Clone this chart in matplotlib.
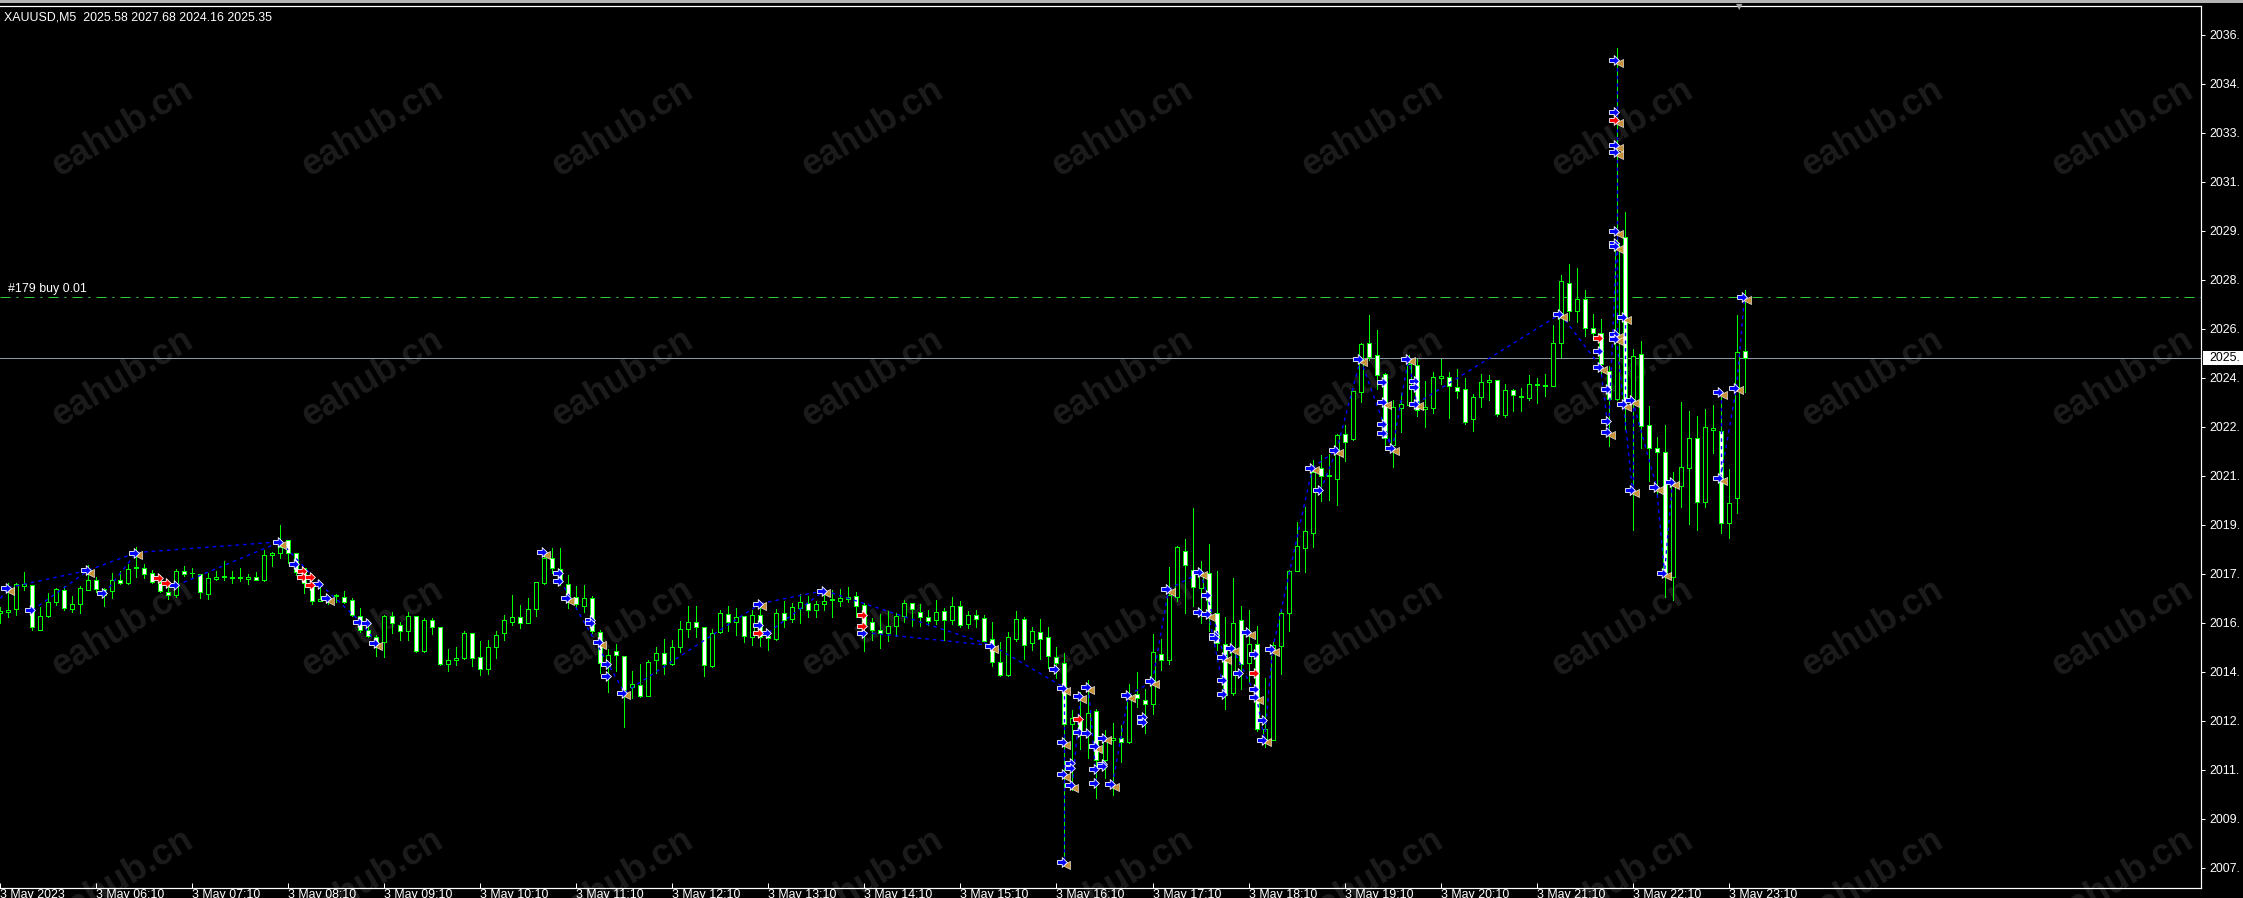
import matplotlib
matplotlib.use("Agg")
import matplotlib.pyplot as plt
from matplotlib.path import Path
from matplotlib.patches import Rectangle

plt.rcParams['font.family'] = ['Liberation Sans', 'DejaVu Sans']

W, H = 2243, 898

opens = [2016.57,2016.60,2016.68,2017.49,2017.51,2015.98,2016.46,2016.94,2017.35,2016.68,
2016.85,2017.36,2017.71,2017.37,2017.33,2017.68,2017.58,2018.10,2018.09,2017.94,
2017.58,2017.29,2017.16,2018.01,2017.92,2017.91,2017.22,2017.74,2017.78,2017.77,
2017.76,2017.74,2017.81,2017.70,2018.54,2018.61,2019.08,2018.61,2018.09,2017.52,
2016.98,2017.12,2017.15,2017.12,2016.99,2016.45,2015.97,2015.74,2015.57,2016.46,
2016.15,2015.94,2016.46,2015.23,2016.33,2016.06,2014.78,2014.95,2014.99,2015.88,
2015.02,2014.61,2015.37,2015.88,2016.26,2016.40,2016.22,2016.68,2017.60,2018.44,
2018.06,2017.57,2017.11,2016.80,2017.06,2015.91,2014.72,2015.25,2015.08,2013.99,
2014.08,2013.70,2014.92,2015.19,2014.78,2015.37,2015.99,2016.23,2016.08,2014.72,
2015.91,2016.53,2016.26,2016.44,2015.71,2016.47,2015.76,2015.67,2016.57,2016.34,
2016.74,2016.91,2016.65,2016.86,2017.00,2016.98,2017.04,2017.13,2016.82,2016.23,
2015.96,2015.88,2016.10,2016.44,2016.89,2016.58,2016.43,2016.33,2016.61,2016.33,
2016.79,2016.19,2016.48,2016.37,2015.65,2014.85,2014.41,2015.65,2016.34,2015.53,
2015.89,2015.72,2015.05,2014.84,2012.71,2012.86,2012.46,2013.19,2011.50,2012.19,
2012.23,2012.11,2013.75,2013.57,2013.43,2015.13,2014.95,2017.12,2018.68,2018.03,
2017.42,2017.95,2016.55,2015.50,2013.78,2016.32,2014.84,2015.47,2012.11,2012.19,
2015.42,2016.57,2018.02,2018.78,2019.30,2021.54,2021.27,2021.19,2022.72,2022.54,
2024.19,2025.85,2025.44,2024.80,2022.36,2023.64,2023.73,2025.10,2023.58,2023.64,
2024.65,2024.70,2024.36,2024.27,2023.23,2023.99,2024.51,2024.58,2023.37,2024.23,
2024.02,2023.98,2024.41,2024.40,2024.40,2025.85,2027.95,2026.98,2027.40,2026.37,
2026.20,2024.91,2023.95,2029.53,2023.79,2025.50,2023.05,2022.23,2022.12,2017.80,
2020.95,2021.54,2022.58,2020.37,2022.88,2022.84,2019.65,2020.51,2025.58]

highs = [2016.77,2017.58,2017.58,2017.97,2017.51,2016.77,2017.26,2017.40,2017.48,2017.14,
2017.48,2018.21,2017.78,2017.40,2017.92,2018.00,2018.24,2018.82,2018.23,2018.03,
2017.86,2017.52,2018.06,2018.17,2018.09,2017.91,2017.94,2017.99,2018.35,2018.00,
2018.09,2017.90,2017.97,2018.73,2018.67,2019.59,2019.08,2018.61,2018.09,2017.58,
2017.48,2017.17,2017.21,2017.30,2017.06,2016.71,2016.31,2015.79,2016.48,2016.60,
2016.25,2016.60,2016.46,2016.37,2016.37,2016.06,2015.33,2015.37,2015.93,2015.88,
2015.59,2015.62,2015.94,2016.47,2017.17,2016.82,2017.07,2017.63,2018.59,2018.78,
2018.78,2017.86,2017.48,2017.52,2017.14,2015.97,2015.30,2015.48,2015.08,2014.55,
2014.79,2014.93,2015.37,2015.65,2015.62,2016.28,2016.79,2016.79,2016.08,2015.99,
2016.65,2016.79,2016.71,2016.44,2016.65,2016.83,2015.91,2016.68,2016.97,2016.91,
2017.21,2017.14,2016.98,2017.24,2017.35,2017.38,2017.44,2017.27,2016.89,2016.37,
2016.52,2016.63,2016.55,2017.00,2016.89,2016.87,2016.66,2017.00,2016.72,2017.10,
2016.97,2016.63,2016.66,2016.49,2016.26,2015.57,2015.90,2016.63,2016.41,2016.07,
2016.34,2016.07,2015.37,2015.16,2013.20,2013.84,2014.24,2013.23,2012.52,2012.75,
2012.69,2014.09,2014.53,2013.95,2015.83,2015.66,2018.13,2018.87,2019.10,2020.17,
2018.34,2018.93,2018.01,2016.42,2017.75,2016.79,2016.65,2016.10,2014.30,2015.54,
2016.65,2018.05,2019.71,2020.20,2021.83,2022.00,2022.04,2022.73,2023.04,2024.22,
2025.85,2026.83,2026.32,2024.84,2023.90,2024.13,2025.45,2025.30,2024.56,2024.87,
2025.30,2024.87,2024.97,2024.65,2024.10,2024.80,2024.76,2024.58,2024.47,2024.28,
2024.31,2024.76,2024.65,2024.80,2026.49,2028.21,2028.59,2028.47,2027.71,2026.86,
2026.69,2025.07,2036.03,2030.39,2025.65,2025.92,2023.69,2022.61,2023.04,2021.43,
2023.84,2023.52,2023.35,2023.58,2023.73,2024.00,2021.51,2026.83,2027.68]

lows = [2016.22,2016.42,2016.48,2017.34,2015.97,2015.97,2016.43,2016.83,2016.66,2016.60,
2016.56,2017.34,2017.29,2016.79,2017.07,2017.55,2017.55,2017.78,2017.77,2017.58,
2017.29,2017.03,2017.09,2017.83,2017.78,2017.08,2017.03,2017.69,2017.69,2017.59,
2017.67,2017.55,2017.69,2017.66,2018.18,2018.45,2018.27,2017.86,2017.25,2016.88,
2016.98,2016.88,2016.92,2016.91,2016.45,2015.91,2015.71,2015.08,2015.05,2015.88,
2015.63,2015.64,2015.21,2015.21,2015.83,2014.77,2014.55,2014.76,2014.96,2014.72,
2014.42,2014.45,2015.00,2015.62,2016.14,2016.03,2016.20,2016.45,2017.55,2017.92,
2017.52,2016.71,2016.68,2016.60,2015.87,2014.47,2013.84,2014.55,2012.63,2013.63,
2013.67,2013.69,2014.50,2014.45,2014.76,2015.22,2015.73,2015.73,2014.39,2014.70,
2015.87,2015.93,2015.79,2015.56,2015.46,2015.41,2015.27,2015.62,2016.08,2016.26,
2016.22,2016.40,2016.40,2016.66,2016.40,2016.80,2016.95,2016.43,2015.26,2015.62,
2015.36,2015.60,2015.76,2016.26,2016.09,2016.12,2016.14,2016.18,2015.63,2016.18,
2016.06,2016.03,2016.06,2015.60,2014.73,2014.38,2014.38,2015.60,2014.97,2015.28,
2014.98,2014.65,2014.30,2007.86,2010.44,2011.88,2011.57,2010.19,2010.88,2010.27,
2011.42,2012.06,2013.30,2012.42,2013.07,2014.59,2014.80,2016.98,2016.57,2016.78,
2016.22,2015.94,2015.28,2013.23,2013.74,2013.95,2014.18,2012.50,2011.92,2012.17,
2014.45,2015.94,2018.02,2017.98,2018.84,2020.42,2020.45,2020.28,2021.80,2022.52,
2023.84,2025.28,2024.27,2022.29,2021.60,2022.81,2023.69,2023.36,2022.98,2023.46,
2024.45,2023.29,2023.98,2023.06,2022.84,2023.67,2023.90,2023.36,2023.30,2023.53,
2023.52,2023.90,2023.81,2024.04,2024.40,2025.39,2026.65,2026.59,2026.11,2025.97,
2024.76,2022.32,2023.90,2022.90,2019.41,2022.26,2021.10,2020.62,2017.10,2017.00,
2020.20,2019.62,2019.41,2020.22,2022.08,2019.30,2019.13,2020.01,2024.16]

closes = [2016.62,2016.66,2017.54,2017.54,2016.08,2016.44,2016.94,2017.37,2016.74,2016.88,
2017.40,2017.68,2017.37,2017.17,2017.68,2017.58,2018.08,2018.14,2017.89,2017.63,
2017.32,2017.18,2018.02,2017.89,2017.95,2017.29,2017.75,2017.78,2017.83,2017.79,
2017.78,2017.81,2017.71,2018.54,2018.61,2018.84,2018.61,2017.98,2017.58,2016.98,
2017.05,2017.05,2017.18,2016.95,2016.47,2015.97,2015.76,2015.39,2016.46,2016.20,
2015.92,2016.46,2015.23,2016.33,2016.06,2014.78,2014.95,2015.00,2015.88,2014.99,
2014.63,2015.37,2015.78,2016.33,2016.40,2016.20,2016.68,2017.61,2018.44,2018.09,
2017.63,2017.14,2016.85,2017.06,2015.93,2014.82,2015.10,2015.09,2013.90,2014.09,
2013.70,2014.88,2015.19,2014.78,2015.39,2015.99,2016.23,2016.08,2014.75,2015.87,
2016.57,2016.26,2016.40,2015.75,2016.50,2015.73,2015.68,2016.57,2016.33,2016.75,
2016.92,2016.65,2016.86,2016.98,2017.03,2017.06,2017.12,2016.81,2016.17,2015.98,
2015.88,2016.10,2016.44,2016.89,2016.68,2016.43,2016.29,2016.58,2016.30,2016.79,
2016.13,2016.48,2016.34,2015.60,2014.85,2014.43,2015.72,2016.34,2015.46,2015.92,
2015.67,2015.06,2014.84,2012.71,2012.92,2012.52,2013.12,2011.50,2012.17,2012.23,
2012.09,2013.72,2013.61,2013.43,2015.22,2014.95,2017.17,2018.82,2018.20,2017.44,
2017.95,2016.60,2015.51,2013.72,2016.22,2014.79,2015.47,2012.54,2012.54,2015.45,
2016.57,2018.02,2018.85,2019.37,2021.43,2021.29,2021.30,2022.69,2022.46,2024.21,
2025.83,2025.39,2024.75,2022.58,2023.65,2023.75,2025.13,2023.56,2023.65,2024.68,
2024.72,2024.38,2024.22,2023.13,2023.99,2024.51,2024.58,2023.41,2024.23,2024.06,
2024.05,2024.44,2024.47,2024.42,2025.85,2027.99,2026.98,2027.40,2026.40,2026.20,
2025.15,2023.92,2029.30,2023.86,2025.43,2023.00,2022.26,2022.12,2017.98,2020.97,
2021.58,2022.58,2020.37,2022.98,2022.92,2019.65,2020.34,2025.57,2025.35]

# blue open arrows
arrow_bars = [1,11,17,35,41,47,68,4,13,22,37,40,45,46,70,70,71,74,74,75,76,76,78,95,95,96,
103,108,124,132,133,133,133,133,134,134,134,135,135,136,136,137,137,137,138,138,138,139,
141,143,143,144,146,150,150,151,151,152,152,153,153,153,154,155,156,157,157,157,158,158,159,
164,165,167,170,173,173,173,173,174,176,177,177,177,195,200,200,201,201,201,202,202,202,202,
202,202,202,202,202,203,203,204,204,207,208,209,215,215,217,218]
arrow_prices = [2017.43,2018.03,2018.64,2019.01,2017.06,2015.53,2018.67,2016.65,2017.23,2017.51,
2018.24,2017.54,2016.25,2016.20,2017.92,2017.67,2017.06,2016.31,2016.20,2015.56,2014.78,2014.38,
2013.81,2016.88,2016.14,2015.88,2017.33,2015.88,2015.43,2014.63,2013.98,2012.11,2010.99,2007.95,
2011.37,2011.22,2010.61,2013.69,2012.46,2014.00,2012.42,2011.96,2011.19,2010.70,2012.26,2011.36,
2011.28,2010.64,2013.72,2012.97,2012.80,2014.20,2017.37,2017.96,2016.58,2017.17,2016.52,2015.80,
2015.68,2015.02,2014.24,2013.75,2015.34,2014.50,2015.91,2015.13,2013.93,2013.67,2012.86,2012.19,
2015.30,2021.57,2020.78,2022.16,2025.30,2024.51,2023.84,2023.06,2022.77,2022.23,2025.33,2024.56,
2024.36,2023.78,2026.87,2025.59,2025.05,2024.28,2023.18,2022.81,2035.63,2033.83,2032.69,2032.46,
2029.73,2029.33,2029.21,2026.17,2026.02,2026.75,2023.75,2023.90,2020.78,2020.91,2017.94,2021.08,
2024.19,2021.21,2024.33,2027.44]

# orange close triangles
close_bars = [1,11,17,35,41,47,68,71,75,78,95,103,124,133,133,133,133,134,135,136,137,138,139,141,
144,146,150,151,153,154,156,157,158,159,164,167,170,173,174,176,177,195,200,201,202,202,202,202,
202,202,202,202,203,203,204,204,207,208,209,215,215,217,218]
close_prices = [2017.43,2018.03,2018.64,2019.01,2017.06,2015.53,2018.67,2017.06,2015.56,2013.81,
2016.88,2017.33,2015.43,2013.98,2012.11,2010.99,2007.95,2010.61,2013.69,2014.00,2011.96,2012.26,
2010.64,2013.72,2014.20,2017.37,2017.96,2016.52,2015.02,2015.34,2015.91,2013.67,2012.19,2015.30,
2021.57,2022.16,2025.30,2023.84,2022.23,2025.33,2023.78,2026.87,2025.05,2022.81,2035.63,2033.55,
2032.69,2032.46,2029.73,2029.21,2026.17,2026.02,2026.75,2023.75,2023.90,2020.78,2020.91,2017.94,
2021.08,2024.19,2021.21,2024.33,2027.44]

# red arrows
red_bars = [20,21,38,38,39,39,95,108,108,135,157,200,202]
red_prices = [2017.77,2017.60,2018.01,2017.78,2017.78,2017.52,2015.88,2016.50,2016.11,2012.89,
2014.47,2026.03,2033.55]

# dotted trade lines
line_from_bar = [0,1,4,11,13,17,22,35,40,45,70,78,95,96,103,108,124,133,134,136,139,141,144,146,
150,151,153,154,157,158,159,164,165,167,170,173,174,176,177,195,200,201,202,202,203,204,204,207,
209,215,215,217]
line_from_price = [2017.06,2017.43,2016.65,2018.03,2017.23,2018.64,2017.51,2019.01,2017.54,2016.25,
2017.67,2013.81,2016.88,2015.88,2017.33,2015.88,2015.43,2013.98,2010.61,2014.00,2010.64,2013.72,
2014.20,2017.37,2017.96,2016.52,2015.02,2015.34,2013.67,2012.19,2015.30,2021.57,2020.78,2022.16,
2025.30,2022.77,2022.23,2025.33,2023.78,2026.87,2025.05,2022.81,2035.63,2026.02,2026.75,2023.90,
2023.90,2020.91,2021.08,2024.19,2021.21,2024.33]
line_to_bar = [1,11,11,17,17,35,35,40,45,47,78,95,103,103,124,124,133,133,135,137,141,144,146,150,
153,153,154,157,158,159,164,167,167,170,174,174,176,177,195,200,201,202,202,204,203,204,207,208,
208,215,217,218]
line_to_price = [2017.43,2018.03,2018.03,2018.64,2018.64,2019.01,2019.01,2017.54,2016.25,2015.53,
2013.81,2016.88,2017.33,2017.33,2015.43,2015.43,2013.98,2007.95,2013.69,2010.70,2013.72,2014.20,
2017.37,2017.96,2015.02,2013.75,2015.34,2013.67,2012.19,2015.30,2021.57,2022.16,2022.16,2025.30,
2022.23,2022.23,2025.33,2023.78,2026.87,2025.05,2022.81,2029.21,2026.02,2020.78,2023.75,2020.78,
2020.91,2017.94,2017.94,2021.21,2024.33,2027.44]

order_price = 2027.45
order_label = "#179 buy 0.01"
last_price = 2025.35
title_text = "XAUUSD,M5  2025.58 2027.68 2024.16 2025.35"

y_ticks = [2036.49,2034.80,2033.11,2031.42,2029.73,2028.04,2026.35,2024.66,2022.97,2021.28,
2019.59,2017.90,2016.21,2014.52,2012.83,2011.14,2009.45,2007.76]
x_tick_bars = list(range(0, 217, 12))
x_tick_labels = ["3 May 2023", "3 May 06:10", "3 May 07:10", "3 May 08:10", "3 May 09:10",
                 "3 May 10:10", "3 May 11:10", "3 May 12:10", "3 May 13:10", "3 May 14:10",
                 "3 May 15:10", "3 May 16:10", "3 May 17:10", "3 May 18:10", "3 May 19:10",
                 "3 May 20:10", "3 May 21:10", "3 May 22:10", "3 May 23:10"]

GREEN = "#00ff00"
px = 0.72  # one pixel in points at dpi 100
FONT = 8.9

fig = plt.figure(figsize=(W / 100, H / 100), dpi=100, facecolor="black")
ax = fig.add_axes([0, 1 - 888 / H, 2201 / W, 882 / H])
ax.patch.set_alpha(0)
ax.set_xlim(-0.06, 275.06)
ax.set_ylim(2007.07, 2037.49)

# watermark behind everything
for row in range(4):
    for col in range(9):
        fig.text((123 + 250 * col) / W, 1 - (128 + 250 * row) / H, "eahub.cn", color="#1c1c1c",
                 fontsize=26, fontweight="bold", rotation=31, ha="center", va="center", zorder=-1)

bars = list(range(len(opens)))
ax.vlines(bars, lows, highs, color=GREEN, lw=px, antialiased=False, zorder=2)
for i in bars:
    face = "white" if closes[i] < opens[i] else "black"
    ax.bar(i, abs(closes[i] - opens[i]), bottom=min(opens[i], closes[i]), width=0.5,
           facecolor=face, edgecolor=GREEN, linewidth=px, antialiased=False, zorder=3)

ax.axhline(order_price, color="#32cd32", lw=px, linestyle=(0, (10, 6, 2, 6)), zorder=1)
ax.axhline(last_price, color="#8a98a8", lw=px, zorder=1)

for x0, y0, x1, y1 in zip(line_from_bar, line_from_price, line_to_bar, line_to_price):
    ax.plot([x0, x1], [y0, y1], color="#0000ff", lw=1.0, linestyle=(0, (2.5, 3)), zorder=4)

arrow = Path([(-1, -0.42), (-0.05, -0.42), (-0.05, -1), (1, 0), (-0.05, 1), (-0.05, 0.42), (-1, 0.42), (-1, -0.42)],
             closed=True)
ax.scatter([b + 0.25 for b in close_bars], [p - 0.1 for p in close_prices], marker="<", s=34,
           color="#c8923a", edgecolors="white", linewidths=0.4, zorder=5)
ax.scatter([b - 0.3 for b in arrow_bars], arrow_prices, marker=arrow, s=50, color="#0000ff",
           edgecolors="white", linewidths=0.6, zorder=6)
ax.scatter([b - 0.3 for b in red_bars], red_prices, marker=arrow, s=50, color="#ff0000",
           edgecolors="white", linewidths=0.6, zorder=7)

for name, spine in ax.spines.items():
    spine.set_color("white")
    spine.set_linewidth(px * 1.2)
ax.spines["left"].set_visible(False)

# the scale only shows the integer part before the window edge
ax.yaxis.tick_right()
ax.set_yticks(y_ticks, [f"{v:.2f}"[:5] for v in y_ticks])
ax.tick_params(axis="y", colors="white", direction="out", length=3, width=px, pad=3, labelsize=FONT)
ax.set_xticks(x_tick_bars, x_tick_labels)
ax.tick_params(axis="x", colors="white", direction="in", length=3.6, width=px, pad=0.4, labelsize=FONT)
for lab in ax.get_xticklabels():
    lab.set_ha("left")

ax.text(4 / 2201, 1 - 11 / 882, title_text, transform=ax.transAxes, color="white", fontsize=FONT,
        va="center", ha="left")
ax.text(1, order_price + 0.06, order_label, color="white", fontsize=FONT, va="bottom", ha="left")

# current price tag on the scale
ax.add_patch(Rectangle((1.001, last_price - 0.24), 0.03, 0.48, transform=ax.get_yaxis_transform(),
                       facecolor="white", edgecolor="none", clip_on=False, zorder=8))
ax.text(1 + 8 / 2201, last_price, f"{last_price:.2f}"[:5], transform=ax.get_yaxis_transform(),
        color="black", fontsize=FONT, va="center", ha="left", clip_on=False, zorder=9)

# window strip above the chart and the shift marker
fig.add_artist(Rectangle((0, 1 - 3 / H), 1, 3 / H, transform=fig.transFigure, facecolor="#b4b4b4",
                         edgecolor="none"))
fig.text(1739 / W, 1 - 7 / H, "\u25bc", color="#a8a8a8", fontsize=6, ha="center", va="center",
         family="DejaVu Sans")

fig.savefig("out.png", dpi=100, facecolor="black")
